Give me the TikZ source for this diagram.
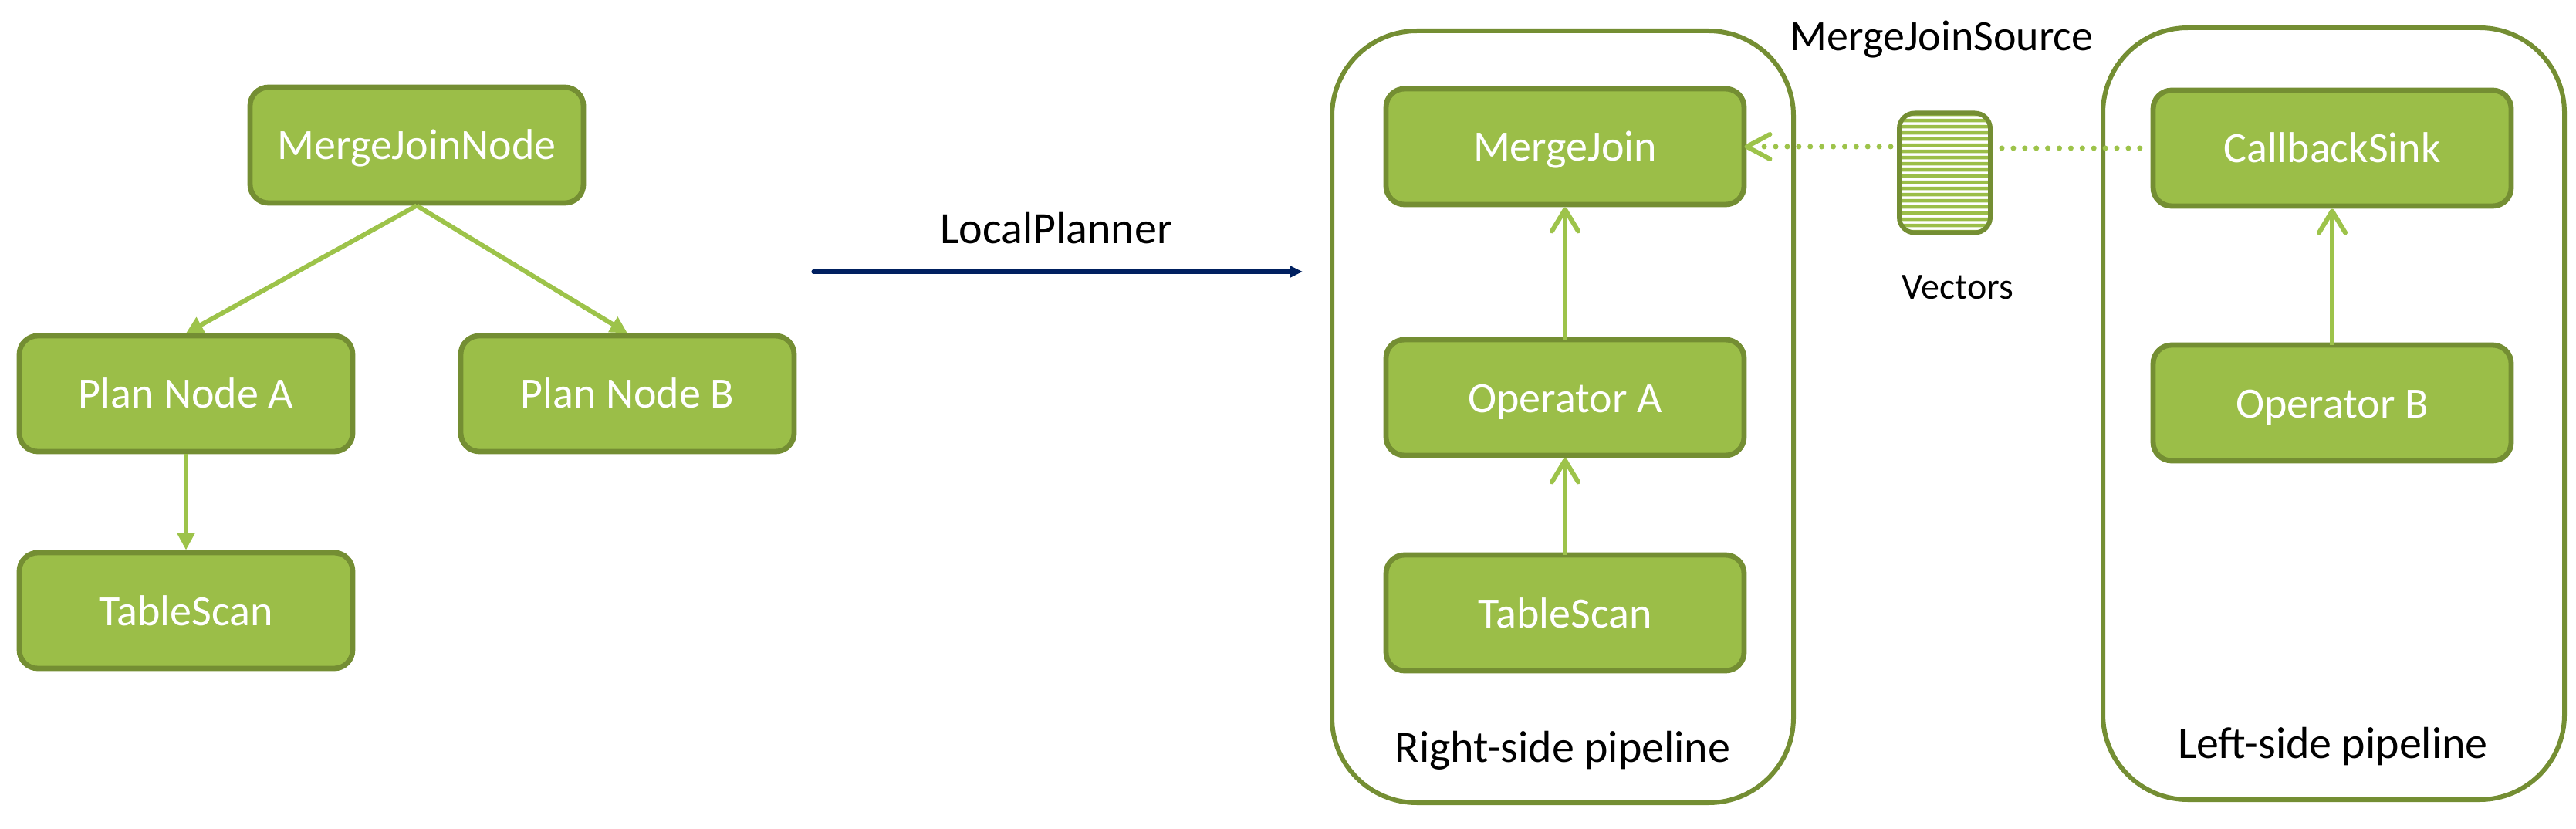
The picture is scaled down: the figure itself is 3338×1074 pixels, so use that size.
\documentclass[tikz,border=0pt]{standalone}
\usepackage{fontspec}
\setmainfont{Carlito}
\usetikzlibrary{arrows.meta}
\definecolor{boxfill}{HTML}{9BBE48}
\definecolor{boxline}{HTML}{748E33}
\definecolor{arrowgreen}{HTML}{9DC34A}
\definecolor{navy}{HTML}{002060}
\tikzset{
  x=0.5pt,y=-0.5pt,
  gbox/.style={draw=boxline,fill=boxfill,line width=3.4pt,rounded corners=12pt,minimum width=216pt,minimum height=75pt,inner sep=0pt,outer sep=1.7pt,text=white,text height=22.5pt,text depth=3.5pt,font=\fontsize{28}{34}\selectfont},
  widebox/.style={gbox,minimum width=232pt},
  container/.style={draw=boxline,line width=3pt,rounded corners=55pt,inner sep=0pt,minimum width=299pt,minimum height=500pt},
  lbl/.style={text=black,inner sep=0pt,anchor=base,font=\fontsize{29}{34}\selectfont},
  triarrow/.style={draw=arrowgreen,line width=3pt,-{Triangle[length=11pt,width=11pt,fill=arrowgreen]}},
  barbarrow/.style={draw=arrowgreen,line width=3pt,shorten <=-1.7pt,-{Straight Barb[length=14pt,width=17pt,line width=3pt,round]}},
  dotline/.style={draw=arrowgreen,line width=3.5pt,line cap=round,dash pattern=on 0pt off 7.45pt},
}
\begin{document}
\begin{tikzpicture}
\useasboundingbox (0,0) rectangle (3338,1074);
% containers
\node[container] (rightpipe) at (2025,540) {};
\node[container] (leftpipe) at (3024,536) {};
% left tree
\node[gbox] (mjn) at (540,188) {MergeJoinNode};
\node[gbox] (pa) at (241,510) {Plan Node A};
\node[gbox] (pb) at (813,510) {Plan Node B};
\node[gbox] (ts1) at (241,791) {TableScan};
\draw[triarrow] (mjn.south) -- (pa.north);
\draw[triarrow] (mjn.south) -- (pb.north);
\draw[triarrow] (pa.south) -- (ts1.north);
% planner
\coordinate (pstart) at (1054,352);
\coordinate (pend) at (1688,352);
\draw[navy,line width=2.6pt,line cap=round,-{Triangle[length=8pt,width=7pt]}] (pstart) -- (pend);
\node[lbl] (plabel) at (1369,316) {LocalPlanner};
% right pipeline
\node[widebox] (mj) at (2028,190) {MergeJoin};
\node[widebox] (opa) at (2028,515) {Operator A};
\node[widebox] (ts2) at (2028,794) {TableScan};
\draw[barbarrow] (opa.north) -- (mj.south);
\draw[barbarrow] (ts2.north) -- (opa.south);
\node[lbl] (rlabel) at (2025,987) {Right-side pipeline};
% left pipeline
\node[widebox] (cs) at (3022,192) {CallbackSink};
\node[widebox] (opb) at (3022,522) {Operator B};
\draw[barbarrow] (opb.north) -- (cs.south);
\node[lbl] (llabel) at (3023,982) {Left-side pipeline};
% vectors
\node[draw=boxline,line width=3pt,rounded corners=10pt,minimum width=59pt,minimum height=77.5pt,inner sep=0pt,outer sep=1.5pt,fill=white,
  path picture={
    \foreach \yy in {0,1,...,20} {
      \fill[boxfill] (-80,{-78+\yy*8}) rectangle (80,{-78+\yy*8+4.5});
    }
  }] (vec) at (2520,224) {};
\node[lbl,font=\fontsize{24}{28}\selectfont] (vlabel) at (2537,388) {Vectors};
\node[lbl,font=\fontsize{28}{34}\selectfont] (mjs) at (2516,66) {MergeJoinSource};
% dotted
\draw[dotline,shorten <=6pt,shorten >=3pt] (vec.east |- cs.west) -- (cs.west);
\draw[dotline,shorten <=4pt,shorten >=7pt] (vec.west |- mj.east) -- (mj.east);
\draw[draw=arrowgreen,line width=3pt,line cap=round,line join=round]
  ([shift={(30,-16)}]mj.east) -- (mj.east) -- ([shift={(30,16)}]mj.east);
\end{tikzpicture}
\end{document}
